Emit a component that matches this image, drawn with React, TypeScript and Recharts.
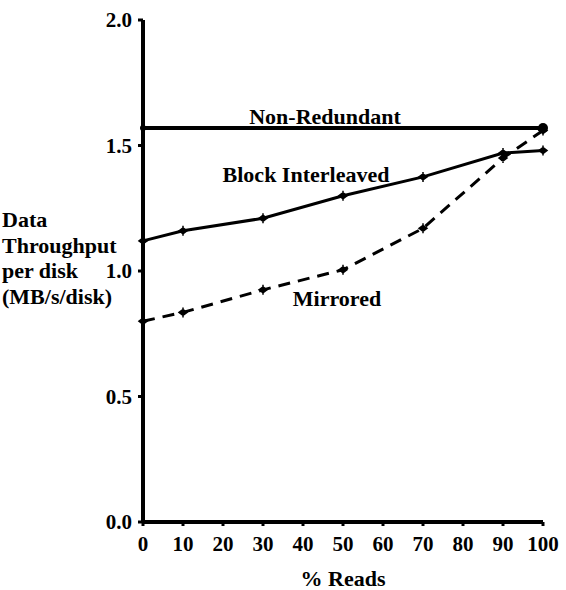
import { LineChart, Line, XAxis, YAxis, ReferenceDot } from "recharts";

const readsPct = [0, 10, 30, 50, 70, 90, 100];
const blockInterleaved = [1.12, 1.16, 1.21, 1.3, 1.375, 1.47, 1.48];
const mirrored = [0.8, 0.835, 0.925, 1.005, 1.17, 1.45, 1.56];
const nonRedundantPct = [0, 100];
const nonRedundant = [1.57, 1.57];

const xTicks = [0, 10, 20, 30, 40, 50, 60, 70, 80, 90, 100];
const yTicks = [0, 0.5, 1.0, 1.5, 2.0];
const yLabelLines = ["Data", "Throughput", "per disk", "(MB/s/disk)"];

const blockData = readsPct.map((x, i) => ({ x, y: blockInterleaved[i] }));
const mirroredData = readsPct.map((x, i) => ({ x, y: mirrored[i] }));
const nonRedData = nonRedundantPct.map((x, i) => ({ x, y: nonRedundant[i] }));

const FONT = '"Liberation Serif", "Times New Roman", Times, serif';

const tickDot = (props: any) => {
  const { cx, cy, index } = props;
  return (
    <path
      key={`d-${index}`}
      d={`M${cx - 4},${cy} L${cx},${cy - 3} L${cx + 4},${cy} L${cx},${cy + 3} Z M${cx},${cy - 5} L${cx},${cy + 5}`}
      fill="#000"
      stroke="#000"
      strokeWidth={1.5}
    />
  );
};

const endDot = (props: any) => {
  const { cx, cy, index } = props;
  return <circle key={`e-${index}`} cx={cx} cy={cy} r={index === 0 ? 3 : 5} fill="#000" />;
};

const textStyle = { fontFamily: FONT, fontWeight: "bold", fontSize: 22, fill: "#000" };

const YLabel = () => (
  <text style={textStyle}>
    {yLabelLines.map((t, i) => (
      <tspan key={t} x={2} y={227 + i * 25.5}>
        {t}
      </tspan>
    ))}
  </text>
);

export default function App() {
  return (
    <div style={{ position: "absolute", left: 0, top: 0, background: "#fff", fontFamily: FONT }}>
      <LineChart width={566} height={590} margin={{ top: 20, right: 23, left: 0, bottom: 0 }}>
        <XAxis
          type="number"
          dataKey="x"
          domain={[0, 100]}
          ticks={xTicks}
          interval={0}
          height={68}
          axisLine={{ stroke: "#000", strokeWidth: 4 }}
          tickLine={{ stroke: "#000", strokeWidth: 3 }}
          tickSize={4}
          tickMargin={10}
          tick={{ ...textStyle, fontSize: 21 }}
          label={{ value: "% Reads", position: "insideBottom", offset: 4, style: textStyle }}
        />
        <YAxis
          type="number"
          dataKey="y"
          domain={[0, 2]}
          ticks={yTicks}
          interval={0}
          width={143}
          axisLine={{ stroke: "#000", strokeWidth: 4 }}
          tickLine={{ stroke: "#000", strokeWidth: 3 }}
          tickSize={5}
          tickMargin={6}
          tickFormatter={(v: number) => v.toFixed(1)}
          tick={{ ...textStyle, fontSize: 21 }}
          label={{ content: () => <YLabel /> }}
        />
        <Line
          data={nonRedData}
          dataKey="y"
          stroke="#000"
          strokeWidth={4}
          dot={endDot}
          isAnimationActive={false}
        />
        <Line
          data={blockData}
          dataKey="y"
          stroke="#000"
          strokeWidth={3}
          dot={tickDot}
          isAnimationActive={false}
        />
        <Line
          data={mirroredData}
          dataKey="y"
          stroke="#000"
          strokeWidth={3}
          strokeDasharray="12 8"
          dot={tickDot}
          isAnimationActive={false}
        />
        <ReferenceDot x={45.5} y={1.616} r={0} fill="none" stroke="none" label={{ value: "Non-Redundant", position: "center", style: textStyle }} />
        <ReferenceDot x={40.75} y={1.386} r={0} fill="none" stroke="none" label={{ value: "Block Interleaved", position: "center", style: textStyle }} />
        <ReferenceDot x={48.5} y={0.892} r={0} fill="none" stroke="none" label={{ value: "Mirrored", position: "center", style: textStyle }} />
      </LineChart>
    </div>
  );
}
